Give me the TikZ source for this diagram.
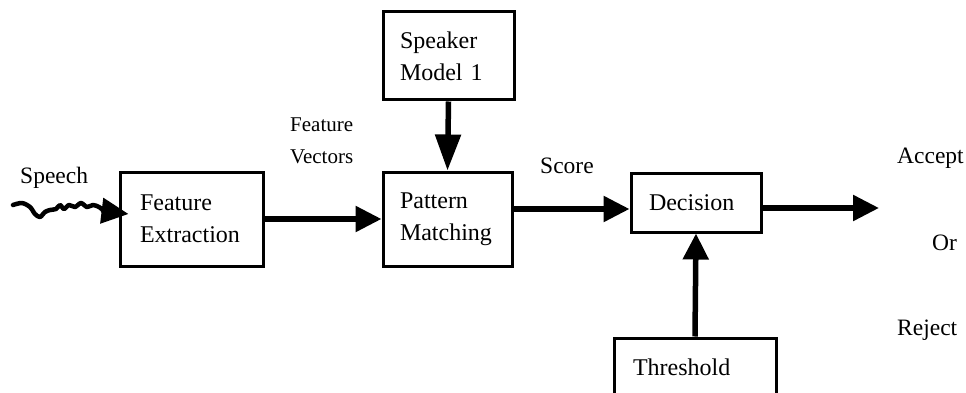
\documentclass[tikz,border=0pt]{standalone}
\usepackage{fontspec}
\setmainfont{Liberation Serif}
\usetikzlibrary{arrows.meta}

\tikzset{
  block/.style={draw, line width=3pt, align=left, inner ysep=0pt,
    font=\fontsize{24}{32}\selectfont},
  flow/.style={line width=5.5pt, -{Triangle[length=26pt,width=25pt]}},
  lbl/.style={inner sep=0pt, anchor=base west, font=\fontsize{23.5}{31}\selectfont}
}

\begin{document}
\begin{tikzpicture}[x=1pt,y=-1pt]
  \path[use as bounding box, clip] (0,0) rectangle (966,393);

  % processing blocks
  \node[block, text width=103pt, inner xsep=20pt, minimum height=94pt]
    (fe) at (191.5,219) {Feature\\Extraction};
  \node[block, text width=95pt, inner xsep=17pt, minimum height=94pt]
    (pm) at (447.5,219) {Pattern\\Matching};
  \node[block, text width=97pt, inner xsep=17pt, minimum height=88pt]
    (sm) at (448.5,56) {Speaker\\Model 1};
  \node[block, text width=94pt, inner xsep=18pt, minimum height=59pt]
    (de) at (696,202.5) {Decision};
  \node[block, text width=124pt, inner xsep=19pt, minimum height=58pt]
    (th) at (695,367) {Threshold};

  % labels
  \node[lbl] (speech) at (20,183) {Speech};
  \node[lbl, font=\fontsize{21}{32}\selectfont, align=left] (fv) at (290,163) {Feature\\Vectors};
  \node[lbl] (score) at (540,173) {Score};
  \node[lbl] (acc) at (897,163) {Accept};
  \node[lbl] (or) at (932,250) {Or};
  \node[lbl] (rej) at (897,335) {Reject};

  % speech input squiggle
  \coordinate (speechin) at (13,205);
  \draw[line width=4.5pt, line join=round, line cap=round,
        -{Triangle[length=27pt,width=25pt]}]
    plot[smooth, tension=0.5] coordinates {(speechin) (22,203) (30,207) (35,214) (40,217)
      (45,212) (50,210) (56,209) (60,205) (64,209) (69,205) (75,207) (81,203)
      (87,207) (93,205) (99,207) (104,211)}
    -- ([xshift=10pt,yshift=5pt]fe.west);

  % connectors
  \draw[flow] (fe.east) -- (pm.west);
  \draw[flow, -{Triangle[length=36pt,width=25pt]}] (sm.south) -- (pm.north);
  \draw[flow] ([yshift=10pt]pm.east) -- ([yshift=-6.5pt]de.west);
  \draw[flow] (th.north) -- (de.south);
  \coordinate (out) at (879,208);
  \draw[flow] ([yshift=-5.5pt]de.east) -- (out);
\end{tikzpicture}
\end{document}
